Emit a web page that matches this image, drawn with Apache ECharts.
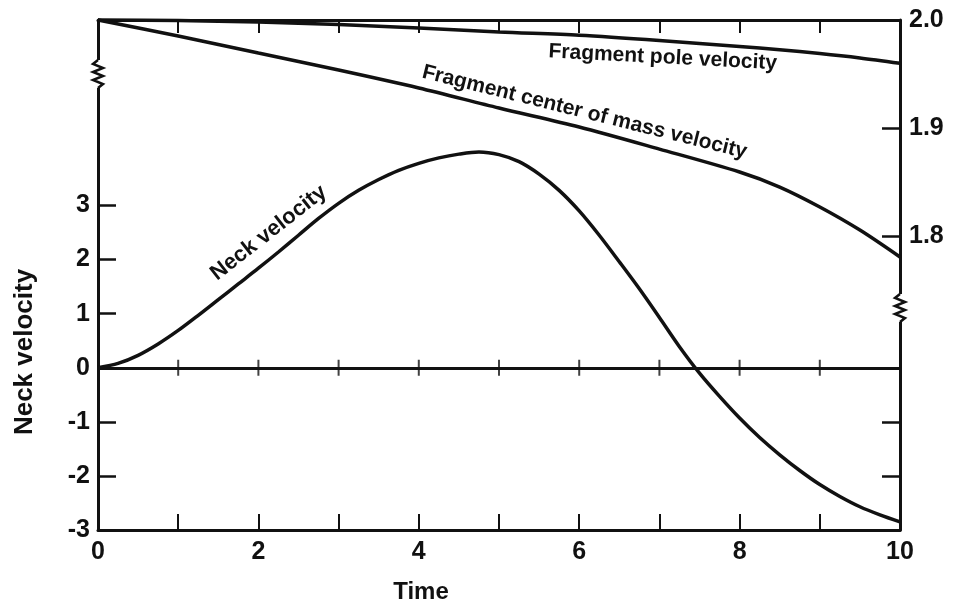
<!DOCTYPE html>
<html>
<head>
<meta charset="utf-8">
<title>Neck velocity</title>
<script src="https://cdn.jsdelivr.net/npm/echarts@6/dist/echarts.min.js"></script>
<style>
    html, body { margin: 0; padding: 0; background: #fff; }
    #chart { width: 975px; height: 610px; }
</style>
</head>
<body>
<div id="chart"></div>
<script>
// neck velocity, left axis
var neckTime = [0, 0.25, 0.5, 0.75, 1, 1.25, 1.5, 1.75, 2, 2.25, 2.5, 2.75, 3, 3.25, 3.5, 3.75, 4, 4.25, 4.5, 4.75,
    5, 5.25, 5.5, 5.75, 6, 6.25, 6.5, 6.75, 7, 7.25, 7.5, 7.75, 8, 8.25, 8.5, 8.75, 9, 9.25, 9.5, 9.75, 10];
var neckVelocity = [0, 0.08, 0.23, 0.44, 0.69, 0.97, 1.26, 1.55, 1.84, 2.14, 2.45, 2.76, 3.04, 3.28, 3.48, 3.65, 3.78, 3.88, 3.95, 3.99,
    3.94, 3.81, 3.58, 3.28, 2.90, 2.45, 1.96, 1.46, 0.93, 0.39, -0.10, -0.53, -0.93, -1.29, -1.61, -1.90, -2.16, -2.38, -2.57, -2.72, -2.85];

// fragment velocities, right axis
var fragTime = [0, 1, 2, 3, 4, 5, 6, 7, 8, 8.5, 9, 9.5, 10];
var poleVelocity = [2.0, 1.9995, 1.9982, 1.9958, 1.9926, 1.9889, 1.9859, 1.9811, 1.9755, 1.9725, 1.9691, 1.9650, 1.9600];
var massVelocity = [2.0, 1.9852, 1.9695, 1.9538, 1.9372, 1.9187, 1.9012, 1.8808, 1.8596, 1.8457, 1.8273, 1.8060, 1.7811];

// ticks and labels
var xTicks = [1, 2, 3, 4, 5, 6, 7, 8, 9];
var xLabels = [0, 2, 4, 6, 8, 10];
var leftTicks = [-3, -2, -1, 0, 1, 2, 3];
var rightTicks = [1.8, 1.9];
var rightLabels = [1.8, 1.9, 2.0];
var rightExtraTicks = [-2, -1];

var font = 'Liberation Sans';
var ink = '#111';

var chart = echarts.init(document.getElementById('chart'));

function pairs(xs, ys) {
    var out = [];
    for (var i = 0; i < xs.length; i++) {
        out.push([xs[i], ys[i]]);
    }
    return out;
}

// little zigzag used for the axis breaks
function zigzag(cx, y0, y1) {
    var pts = [[cx, y0]];
    var n = 6;
    var step = (y1 - y0) / (n + 1);
    for (var i = 1; i <= n; i++) {
        pts.push([cx + (i % 2 ? -5 : 5), y0 + step * i]);
    }
    pts.push([cx, y1]);
    return pts;
}

function breakMark(cx, y0, y1) {
    return [{
        type: 'rect',
        shape: {x: cx - 4, y: y0, width: 8, height: y1 - y0},
        style: {fill: '#fff'},
        z: 100
    }, {
        type: 'polyline',
        shape: {points: zigzag(cx, y0, y1)},
        style: {stroke: ink, lineWidth: 2.5, fill: null},
        z: 101
    }];
}

function curveText(text, x, y, deg, size) {
    return {
        type: 'text',
        x: x,
        y: y,
        rotation: deg * Math.PI / 180,
        style: {
            text: text,
            font: 'bold ' + size + 'px "' + font + '"',
            fill: ink,
            textAlign: 'left',
            textVerticalAlign: 'bottom'
        },
        z: 50
    };
}

var axisLine = {show: true, onZero: false, lineStyle: {color: ink, width: 3}};
var labelStyle = {color: ink, fontFamily: font, fontWeight: 'bold', fontSize: 25};

var option = {
    animation: false,
    backgroundColor: '#fff',
    grid: {left: 98, right: 75, top: 20, bottom: 80},
    xAxis: [{
        type: 'value',
        position: 'bottom',
        min: 0,
        max: 10,
        interval: 1,
        axisLine: axisLine,
        axisTick: {inside: true, length: 16, customValues: xTicks, lineStyle: {color: ink, width: 2}},
        axisLabel: Object.assign({margin: 10, customValues: xLabels}, labelStyle),
        splitLine: {show: false}
    }, {
        type: 'value',
        position: 'top',
        min: 0,
        max: 10,
        interval: 1,
        axisLine: axisLine,
        axisTick: {inside: true, length: 13, customValues: xTicks, lineStyle: {color: ink, width: 2}},
        axisLabel: {show: false},
        splitLine: {show: false}
    }],
    yAxis: [{
        type: 'value',
        position: 'left',
        min: -3,
        max: 6.43,
        interval: 1,
        axisLine: axisLine,
        axisTick: {inside: true, length: 18, customValues: leftTicks, lineStyle: {color: ink, width: 2.5}},
        axisLabel: Object.assign({margin: 8, customValues: leftTicks}, labelStyle),
        splitLine: {show: false}
    }, {
        type: 'value',
        position: 'right',
        min: 1.529,
        max: 2.0,
        axisLine: axisLine,
        axisTick: {inside: true, length: 18, customValues: rightTicks, lineStyle: {color: ink, width: 2.5}},
        axisLabel: Object.assign({
            margin: 9,
            customValues: rightLabels,
            formatter: function (v) { return v.toFixed(1); }
        }, labelStyle),
        splitLine: {show: false}
    }, {
        type: 'value',
        position: 'right',
        min: -3,
        max: 6.43,
        axisLine: {show: false, onZero: false},
        axisTick: {inside: true, length: 18, customValues: rightExtraTicks, lineStyle: {color: ink, width: 2.5}},
        axisLabel: {show: false},
        splitLine: {show: false}
    }],
    series: [{
        name: 'Neck velocity',
        type: 'line',
        xAxisIndex: 0,
        yAxisIndex: 0,
        data: pairs(neckTime, neckVelocity),
        smooth: 0.3,
        showSymbol: false,
        clip: false,
        lineStyle: {color: ink, width: 3.5},
        markLine: {
            silent: true,
            symbol: 'none',
            label: {show: false},
            lineStyle: {color: ink, width: 3, type: 'solid'},
            data: [{yAxis: 0}]
        }
    }, {
        name: 'Fragment pole velocity',
        type: 'line',
        xAxisIndex: 0,
        yAxisIndex: 1,
        data: pairs(fragTime, poleVelocity),
        smooth: 0.3,
        showSymbol: false,
        clip: false,
        lineStyle: {color: ink, width: 3.5}
    }, {
        name: 'Fragment center of mass velocity',
        type: 'line',
        xAxisIndex: 0,
        yAxisIndex: 1,
        data: pairs(fragTime, massVelocity),
        smooth: 0.3,
        showSymbol: false,
        clip: false,
        lineStyle: {color: ink, width: 3.5}
    }, {
        // tick marks crossing the zero line
        type: 'scatter',
        xAxisIndex: 0,
        yAxisIndex: 0,
        data: xTicks.map(function (t) { return [t, 0]; }),
        symbol: 'rect',
        symbolSize: [2, 16],
        silent: true,
        itemStyle: {color: ink}
    }],
    graphic: [].concat(
        breakMark(98, 60, 88),
        breakMark(900, 294, 322),
        [
            curveText('Fragment pole velocity', 548, 62, -3, 21),
            curveText('Fragment center of mass velocity', 420, 82, -14, 21),
            curveText('Neck velocity', 220, 285, 38, 22),
            {
                type: 'text',
                x: 421,
                y: 592,
                style: {
                    text: 'Time',
                    font: 'bold 24px "' + font + '"',
                    fill: ink,
                    textAlign: 'center',
                    textVerticalAlign: 'middle'
                }
            },
            {
                type: 'text',
                x: 25,
                y: 352,
                rotation: Math.PI / 2,
                style: {
                    text: 'Neck velocity',
                    font: 'bold 26px "' + font + '"',
                    fill: ink,
                    textAlign: 'center',
                    textVerticalAlign: 'middle'
                }
            }
        ]
    )
};

chart.setOption(option);
</script>
</body>
</html>
